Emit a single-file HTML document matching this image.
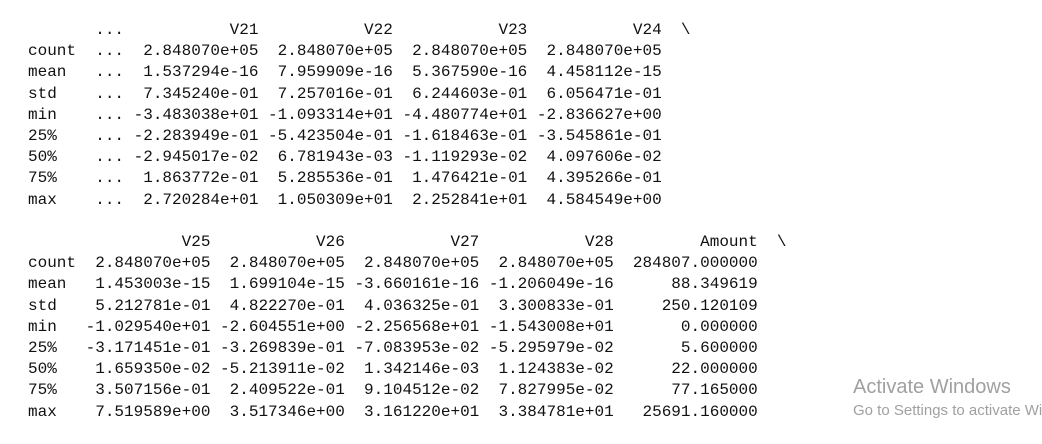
<!DOCTYPE html>
<html><head><meta charset="utf-8"><style>
html,body{margin:0;padding:0;background:#fff;width:1042px;height:444px;overflow:hidden;position:relative}
pre{position:absolute;left:28px;top:20px;margin:0;font-family:"Liberation Mono",monospace;font-size:16px;line-height:21.2px;color:#111}
.wm1{position:absolute;left:853px;top:376px;font-family:"Liberation Sans",sans-serif;font-size:20px;color:#a0a0a0;white-space:nowrap}
.wm2{position:absolute;left:853px;top:402px;font-family:"Liberation Sans",sans-serif;font-size:15px;color:#a0a0a0;white-space:nowrap}
</style></head><body>
<pre>       ...           V21           V22           V23           V24  \
count  ...  2.848070e+05  2.848070e+05  2.848070e+05  2.848070e+05
mean   ...  1.537294e-16  7.959909e-16  5.367590e-16  4.458112e-15
std    ...  7.345240e-01  7.257016e-01  6.244603e-01  6.056471e-01
min    ... -3.483038e+01 -1.093314e+01 -4.480774e+01 -2.836627e+00
25%    ... -2.283949e-01 -5.423504e-01 -1.618463e-01 -3.545861e-01
50%    ... -2.945017e-02  6.781943e-03 -1.119293e-02  4.097606e-02
75%    ...  1.863772e-01  5.285536e-01  1.476421e-01  4.395266e-01
max    ...  2.720284e+01  1.050309e+01  2.252841e+01  4.584549e+00

                V25           V26           V27           V28         Amount  \
count  2.848070e+05  2.848070e+05  2.848070e+05  2.848070e+05  284807.000000
mean   1.453003e-15  1.699104e-15 -3.660161e-16 -1.206049e-16      88.349619
std    5.212781e-01  4.822270e-01  4.036325e-01  3.300833e-01     250.120109
min   -1.029540e+01 -2.604551e+00 -2.256568e+01 -1.543008e+01       0.000000
25%   -3.171451e-01 -3.269839e-01 -7.083953e-02 -5.295979e-02       5.600000
50%    1.659350e-02 -5.213911e-02  1.342146e-03  1.124383e-02      22.000000
75%    3.507156e-01  2.409522e-01  9.104512e-02  7.827995e-02      77.165000
max    7.519589e+00  3.517346e+00  3.161220e+01  3.384781e+01   25691.160000</pre>
<div class="wm1">Activate Windows</div>
<div class="wm2">Go to Settings to activate Windows.</div>
</body></html>
